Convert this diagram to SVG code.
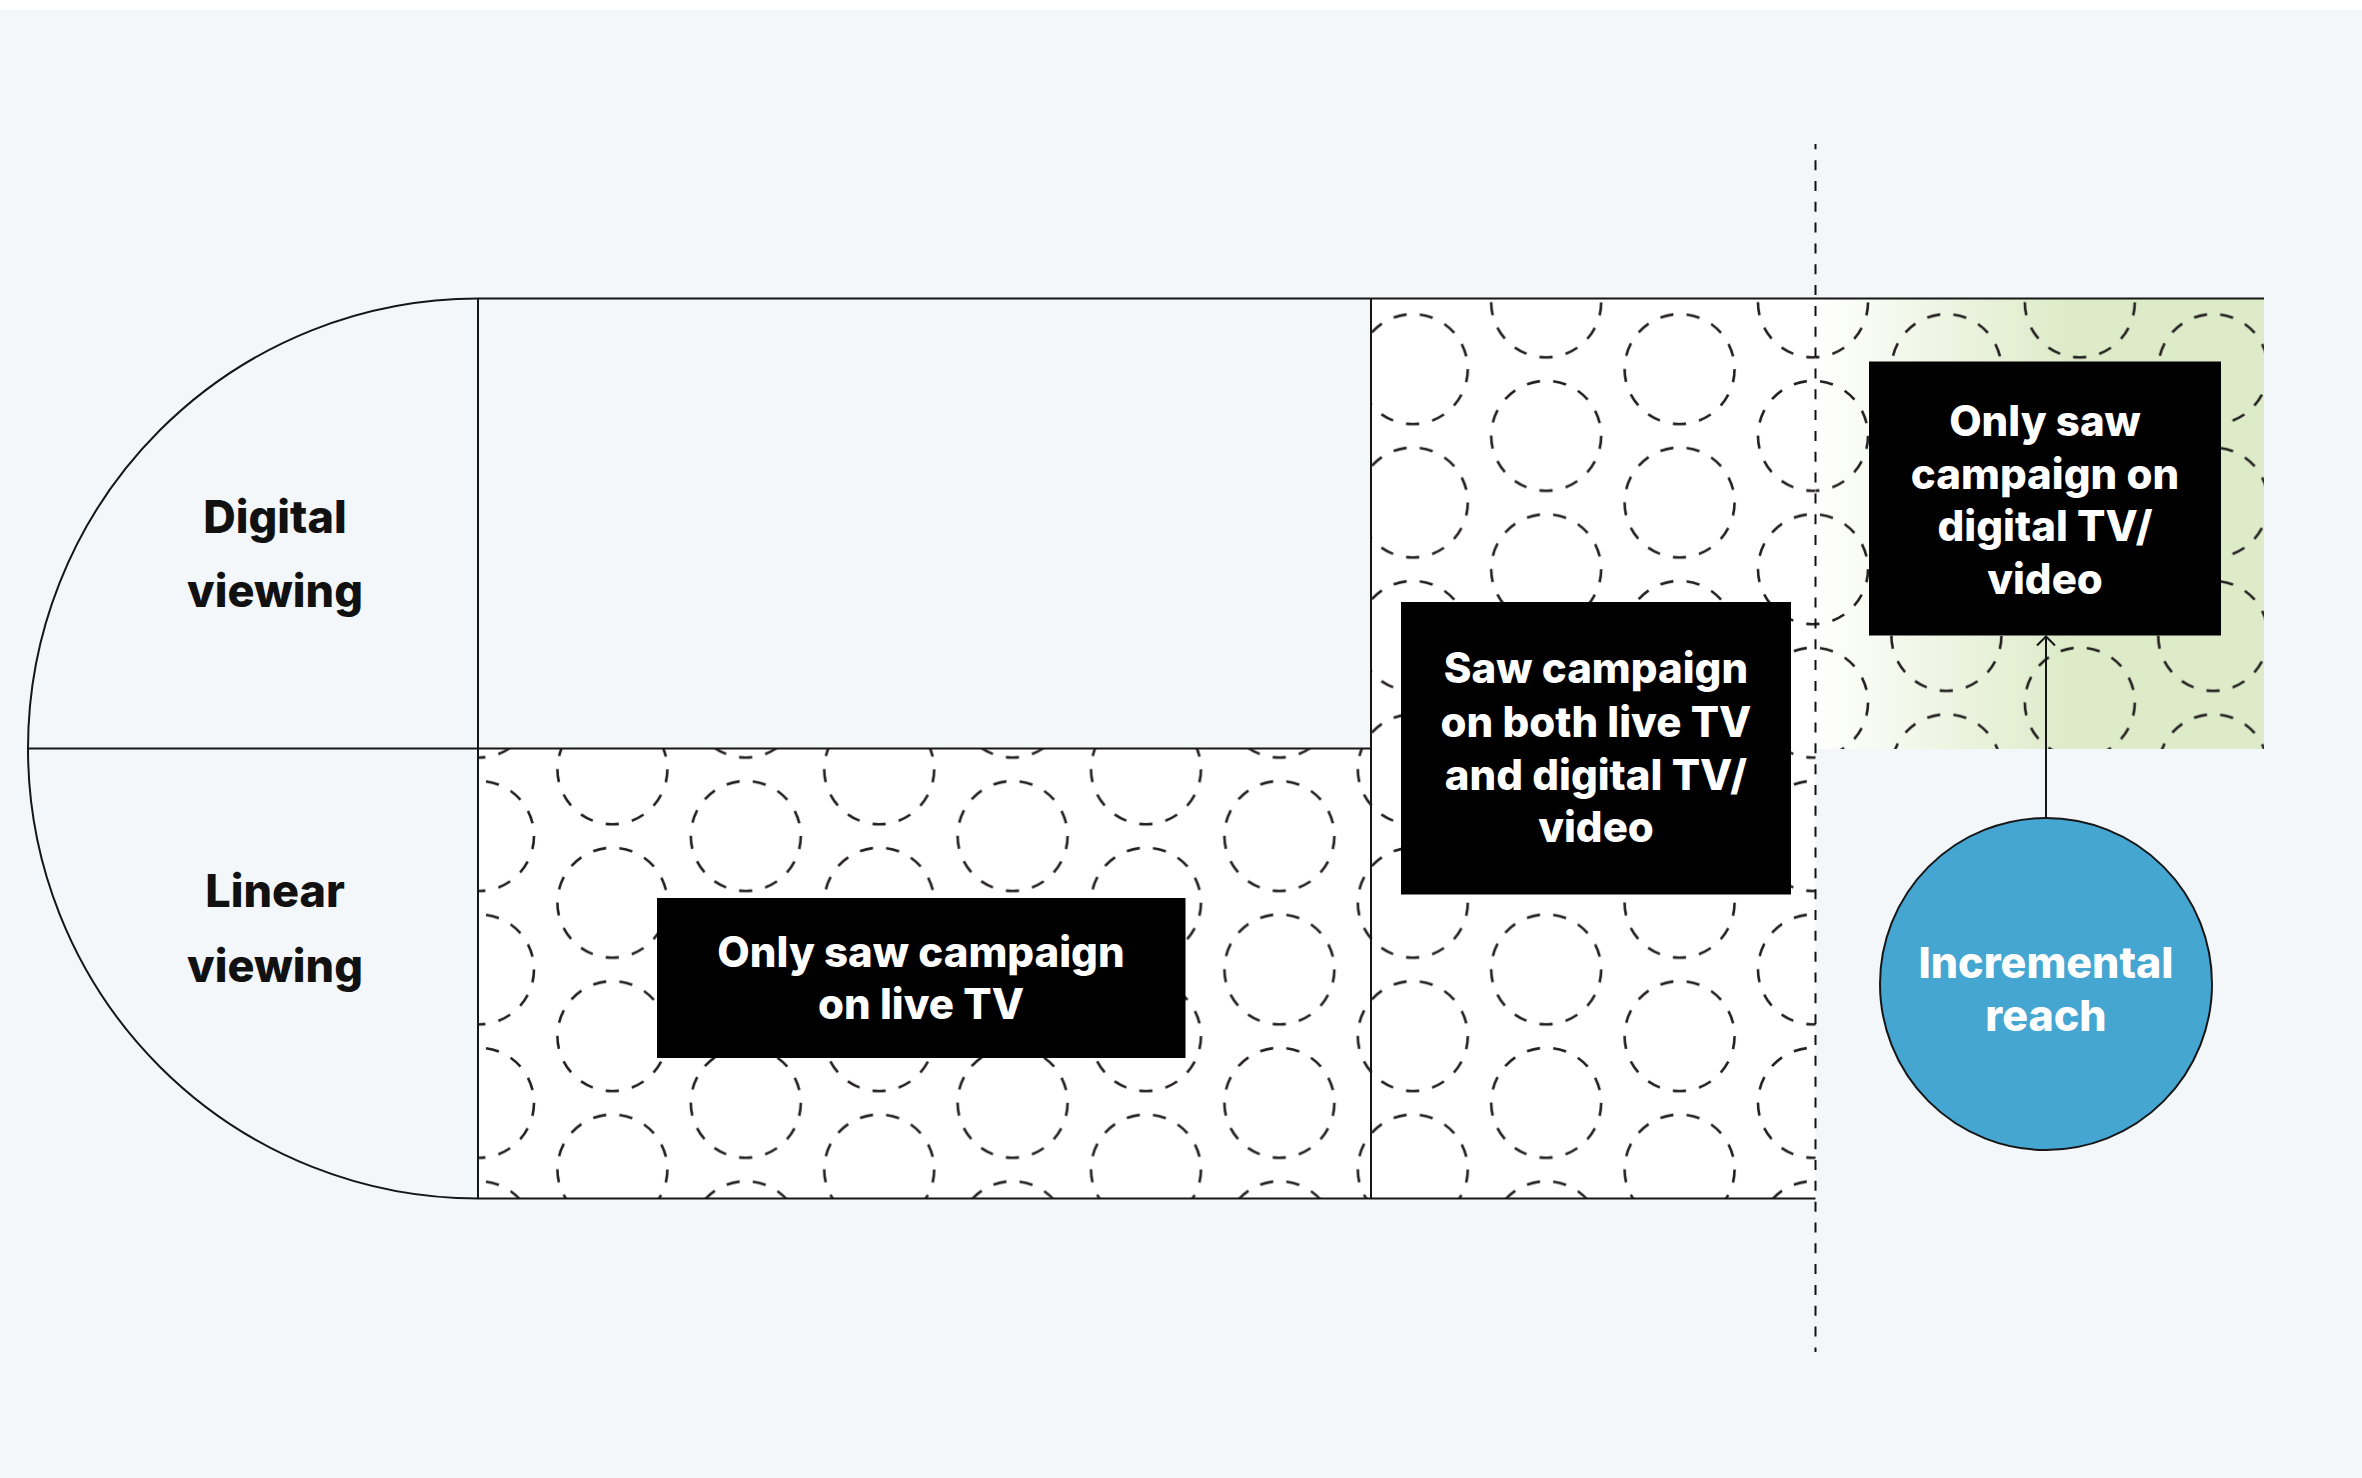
<svg xmlns="http://www.w3.org/2000/svg" width="2362" height="1478" viewBox="0 0 2362 1478">
<style>
.ln{stroke:#161616;stroke-width:2;fill:none}
.dc{fill:none;stroke:#231f20;stroke-width:2.6;stroke-dasharray:13.29 13.29}
.box{fill:#000}
.bt{font-family:Inter,"Noto Sans","DejaVu Sans",sans-serif;font-weight:800;font-size:42px;fill:#fff;text-anchor:middle}
.ct{font-size:43px}
.lb{font-family:Inter,"Noto Sans","DejaVu Sans",sans-serif;font-weight:800;font-size:45px;fill:#111;text-anchor:middle}
</style>
<defs>
<pattern id="dots" patternUnits="userSpaceOnUse" x="479" y="836" width="266.8" height="133.4">
<circle class="dc" cx="0" cy="0" r="55"/>
<circle class="dc" cx="266.8" cy="0" r="55"/>
<circle class="dc" cx="0" cy="133.4" r="55"/>
<circle class="dc" cx="266.8" cy="133.4" r="55"/>
<circle class="dc" cx="133.4" cy="66.7" r="55"/>
</pattern>
<linearGradient id="grn" gradientUnits="userSpaceOnUse" x1="1815" y1="0" x2="2070" y2="0">
<stop offset="0" stop-color="#ffffff"/>
<stop offset="0.15" stop-color="#fafcf6"/>
<stop offset="1" stop-color="#ddebc8"/>
</linearGradient>
<marker id="arr" markerWidth="24" markerHeight="24" refX="12" refY="12" orient="auto" markerUnits="userSpaceOnUse">
<path d="M3 3 L12 12 L3 21" fill="none" stroke="#161616" stroke-width="2"/>
</marker>
</defs>
<rect x="0" y="0" width="2362" height="1478" fill="#f3f7fa"/>
<rect x="0" y="0" width="2362" height="10" fill="#ffffff"/>

<g id="regions">
<rect x="478" y="748.5" width="893" height="450" fill="#ffffff"/>
<rect x="478" y="748.5" width="893" height="450" fill="url(#dots)"/>
<rect x="1371" y="298.5" width="444.5" height="900" fill="#ffffff"/>
<rect x="1371" y="298.5" width="444.5" height="900" fill="url(#dots)"/>
<rect x="1815.5" y="298.5" width="448.5" height="450.5" fill="url(#grn)"/>
<rect x="1815.5" y="298.5" width="448.5" height="450.5" fill="url(#dots)"/>
</g>

<g id="frame">
<path class="ln" d="M478 298.5 A450 450 0 0 0 478 1198.5"/>
<path class="ln" d="M478 298.5 H2264"/>
<path class="ln" d="M478 1198.5 H1815.5"/>
<path class="ln" d="M28 748.5 H1371"/>
<path class="ln" d="M478 298.5 V1198.5"/>
<path class="ln" d="M1371 298.5 V1198.5"/>
<path d="M1815.5 144 V1352" fill="none" stroke="#111" stroke-width="2" stroke-dasharray="10 10.83" stroke-dashoffset="4.7"/>
</g>

<g id="label-digital">
<text class="lb" x="275" y="532.5">Digital</text>
<text class="lb" x="275" y="606.5">viewing</text>
</g>
<g id="label-linear">
<text class="lb" x="275" y="907">Linear</text>
<text class="lb" x="275" y="982">viewing</text>
</g>

<g id="node-live">
<rect class="box" x="657" y="898" width="528.5" height="160"/>
<text class="bt" x="921" y="967.3">Only saw campaign</text>
<text class="bt" x="921" y="1019.3">on live TV</text>
</g>

<g id="node-both">
<rect class="box" x="1401" y="602" width="390" height="292.5"/>
<text class="bt" x="1596" y="683.3">Saw campaign</text>
<text class="bt" x="1596" y="736.7">on both live TV</text>
<text class="bt" x="1596" y="790">and digital TV/</text>
<text class="bt" x="1596" y="841.7">video</text>
</g>

<g id="node-digital">
<rect class="box" x="1869" y="361.5" width="352" height="274"/>
<text class="bt" x="2045" y="435.7">Only saw</text>
<text class="bt" x="2045" y="488.7">campaign on</text>
<text class="bt" x="2045" y="540.9">digital TV/</text>
<text class="bt" x="2045" y="594.3">video</text>
</g>

<g id="node-incremental">
<circle cx="2046" cy="984" r="166" fill="#46a6d2" stroke="#161616" stroke-width="2"/>
<text class="bt ct" x="2046" y="977.6">Incremental</text>
<text class="bt ct" x="2046" y="1030.6">reach</text>
</g>

<g id="connectors">
<path d="M2046 818 V636.5" fill="none" stroke="#161616" stroke-width="2" marker-end="url(#arr)"/>
</g>
</svg>
